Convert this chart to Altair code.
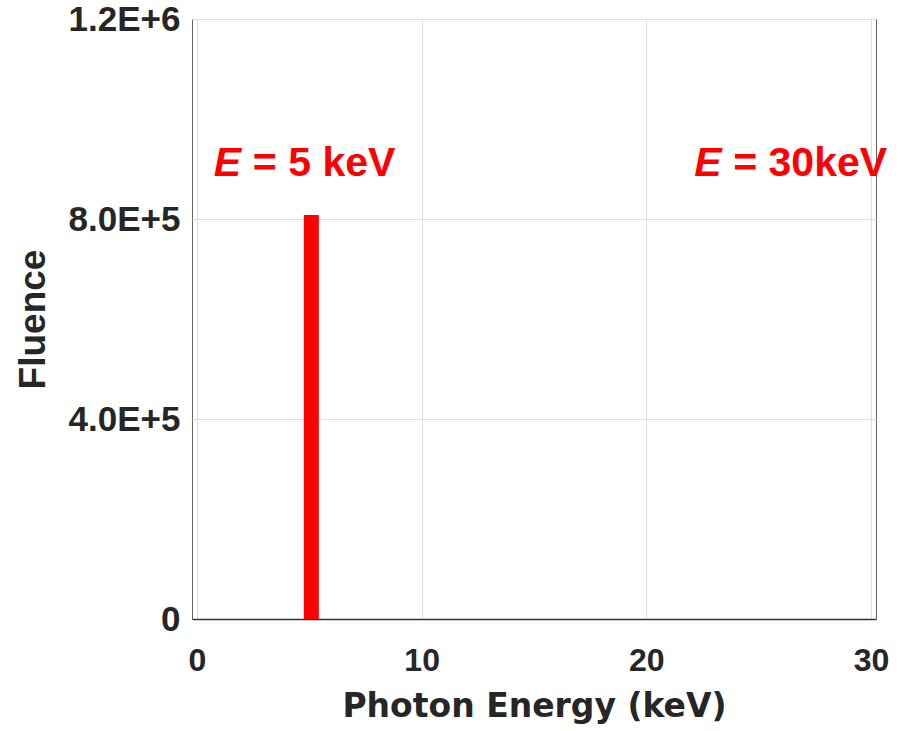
import altair as alt
import pandas as pd

# data
energies = [5]
fluences = [808000]

x_ticks = [0, 10, 20, 30]
y_ticks = [0, 400000, 800000, 1200000]
y_tick_labels = ["0", "4.0E+5", "8.0E+5", "1.2E+6"]

ann_x = [0.75, 22.13]
ann_y = [886000, 886000]
ann_sym = ["E", "E"]
ann_rest = ["= 5 keV", "= 30keV"]

bars = pd.DataFrame({"energy": energies, "fluence": fluences})
ann = pd.DataFrame({"x": ann_x, "y": ann_y, "sym": ann_sym, "rest": ann_rest})

label_expr = " : ".join(
    [f"datum.value == {v} ? '{l}'" for v, l in zip(y_ticks, y_tick_labels)]
) + " : ''"

x_scale = alt.Scale(domain=[0, 30], nice=False, zero=False)
y_scale = alt.Scale(domain=[0, 1200000], nice=False)

x_axis = alt.Axis(
    values=x_ticks, format="d", title="Photon Energy (keV)",
    grid=True, gridColor="#dedede", gridWidth=1,
    ticks=False, tickSize=0, domain=True, domainColor="#333333", domainWidth=1.5,
    labelFont="Liberation Sans", labelFontWeight="bold", labelFontSize=32,
    labelColor="#262626", labelPadding=26, labelBaseline="top",
    labelFlush=False,
    titleFont="DejaVu Sans", titleFontWeight="bold", titleFontSize=33,
    titleColor="#262626", titleBaseline="alphabetic", titleY=97,
)
y_axis = alt.Axis(
    values=y_ticks, labelExpr=label_expr, title="Fluence",
    grid=True, gridColor="#dedede", gridWidth=1,
    ticks=False, tickSize=0, domain=False,
    labelFont="Liberation Sans", labelFontWeight="bold", labelFontSize=35,
    labelColor="#262626", labelPadding=12, labelFlush=False,
    titleFont="Liberation Sans", titleFontWeight="bold", titleFontSize=37,
    titleColor="#262626", titleBaseline="alphabetic", titleX=-148, titleY=300,
    titleAngle=270,
)

bar = alt.Chart(bars).mark_bar(color="#ff0000", size=15, xOffset=2).encode(
    x=alt.X("energy:Q", scale=x_scale, axis=x_axis),
    y=alt.Y("fluence:Q", scale=y_scale, axis=y_axis),
)

sym = alt.Chart(ann).mark_text(
    font="Liberation Sans", fontSize=41, fontWeight="bold", fontStyle="italic",
    color="#ff0000", align="left", baseline="alphabetic",
).encode(x=alt.X("x:Q", scale=x_scale), y=alt.Y("y:Q", scale=y_scale), text="sym:N")

rest = alt.Chart(ann).mark_text(
    font="Liberation Sans", fontSize=41, fontWeight="bold",
    color="#ff0000", align="left", baseline="alphabetic", dx=39,
).encode(x=alt.X("x:Q", scale=x_scale), y=alt.Y("y:Q", scale=y_scale), text="rest:N")

chart = alt.layer(bar, sym, rest).properties(
    width=684, height=600,
    autosize=alt.AutoSizeParams(type="none"),
    padding={"left": 192, "top": 19, "right": 26, "bottom": 112},
    background="white",
).configure_view(stroke="#666666", strokeWidth=1)

chart.save("out.html", embed_options={"renderer": "svg", "actions": False})
